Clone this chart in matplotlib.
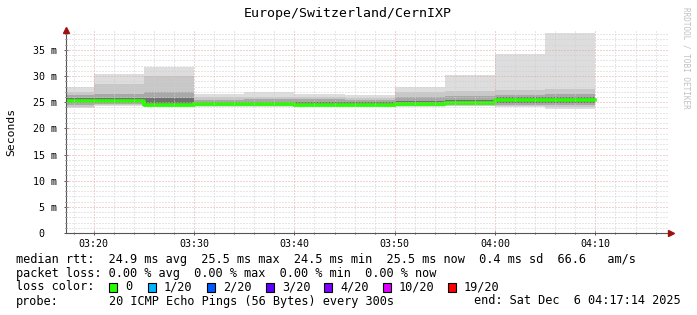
import matplotlib
matplotlib.use("Agg")
import matplotlib.pyplot as plt
from matplotlib.patches import Rectangle
import numpy as np

# time in minutes after 03:00, bins of 5 minutes (03:15 .. 04:10)
bin_edges = [15, 20, 25, 30, 35, 40, 45, 50, 55, 60, 65, 70]

# smoke bands per bin in ms (outer -> inner)
rtt_max = [28.0, 30.3, 31.7, 26.6, 27.0, 26.5, 26.3, 28.0, 30.2, 34.3, 38.3]
rtt_hi2 = [26.9, 28.5, 30.0, 26.0, 26.0, 26.0, 25.8, 26.9, 27.2, 27.4, 27.5]
rtt_hi3 = [26.3, 26.6, 27.0, 25.5, 25.7, 25.6, 25.5, 26.0, 26.2, 26.3, 26.5]
rtt_hi4 = [25.8, 25.8, 25.8, 25.0, 25.1, 25.0, 25.0, 25.3, 25.5, 26.0, 26.0]
median = [25.3, 25.3, 24.5, 24.6, 24.6, 24.5, 24.5, 24.7, 24.9, 25.4, 25.5]
rtt_lo4 = [24.8, 24.9, 24.3, 24.4, 24.4, 24.3, 24.3, 24.4, 24.6, 24.8, 24.8]
rtt_lo3 = [24.4, 24.6, 24.2, 24.3, 24.3, 24.2, 24.2, 24.3, 24.4, 24.5, 24.4]
rtt_lo2 = [24.0, 24.4, 24.1, 24.2, 24.2, 24.1, 24.1, 24.2, 24.3, 24.2, 24.0]
rtt_min = [23.8, 24.2, 24.0, 24.1, 24.1, 24.0, 24.0, 24.1, 24.2, 24.0, 23.7]

tick_minutes = [20, 30, 40, 50, 60, 70]
tick_labels = ["03:20", "03:30", "03:40", "03:50", "04:00", "04:10"]
ytick_vals = [0, 5, 10, 15, 20, 25, 30, 35]
ytick_labels = ["0  ", "5 m", "10 m", "15 m", "20 m", "25 m", "30 m", "35 m"]

loss_labels = ["0", "1/20", "2/20", "3/20", "4/20", "10/20", "19/20"]
loss_colors = ["#26ff00", "#00b8ff", "#0059ff", "#5e00ff", "#7e00ff", "#dd00ff", "#ff0000"]

legend_lines = [
    "median rtt:  24.9 ms avg  25.5 ms max  24.5 ms min  25.5 ms now  0.4 ms sd  66.6   am/s",
    "packet loss: 0.00 % avg  0.00 % max  0.00 % min  0.00 % now",
]
probe_text = "20 ICMP Echo Pings (56 Bytes) every 300s"
end_text = "end: Sat Dec  6 04:17:14 2025"

plt.rcParams['font.family'] = ['DejaVu Sans Mono']

W, H = 697, 315
fig = plt.figure(figsize=(W / 100, H / 100), dpi=100)
fig.patch.set_facecolor("white")
ax = fig.add_axes([66 / W, (H - 233) / H, (668 - 66) / W, (233 - 30) / H])
ax.set_facecolor("white")

def ext(v):
    return list(v) + [v[-1]]

bands = [
    (rtt_min, rtt_max, "#dddddd"),
    (rtt_lo2, rtt_hi2, "#c8c8c8"),
    (rtt_lo3, rtt_hi3, "#a8a8a8"),
    (rtt_lo4, rtt_hi4, "#707070"),
]
for lo, hi, col in bands:
    ax.fill_between(bin_edges, ext(lo), ext(hi), step="post", color=col, lw=0, zorder=1)

ax.step(bin_edges, ext(median), where="post", color="#26ff00", lw=2.6, zorder=2)

t0 = 17 + 14 / 60
ax.set_xlim(t0, t0 + 60)
ax.set_ylim(0, 38.8)

# grid on top, like rrdtool
minor_c = "#cfcfcf"
major_c = "#eaa5a5"
dots = (0, (1, 2))
for m in np.arange(18, 78, 2):
    if m % 10:
        ax.axvline(m, color=minor_c, lw=0.72, ls=dots, zorder=3)
for m in tick_minutes:
    ax.axvline(m, color=major_c, lw=0.72, ls=dots, zorder=3)
for v in range(1, 39):
    if v % 5:
        ax.axhline(v, color=minor_c, lw=0.72, ls=dots, zorder=3)
for v in ytick_vals[1:]:
    ax.axhline(v, color=major_c, lw=0.72, ls=dots, zorder=3)

ax.set_xticks(tick_minutes)
ax.set_xticklabels(tick_labels, fontsize=7.2)
ax.set_xticks(np.arange(18, 78, 2), minor=True)
ax.set_yticks(ytick_vals)
ax.set_yticklabels(ytick_labels, fontsize=7.2)
ax.set_yticks(range(0, 39), minor=True)
ax.tick_params(axis="both", which="major", length=3, width=0.7, color="#555555", direction="inout", pad=3)
ax.tick_params(axis="both", which="minor", length=2, width=0.7, color="#555555", direction="inout")
ax.tick_params(axis="y", pad=5)

for s in ["top", "right"]:
    ax.spines[s].set_visible(False)
for s in ["left", "bottom"]:
    ax.spines[s].set_color("#555555")
    ax.spines[s].set_linewidth(0.8)

# axis arrows
ax.plot([0], [1.0], marker="^", ms=4, color="#a01010", transform=ax.transAxes, clip_on=False, zorder=5)
ax.plot([1.005], [0], marker=">", ms=4, color="#a01010", transform=ax.transAxes, clip_on=False, zorder=5)

def px(x, y):
    return x / W, 1 - y / H

fig.text(*px(348, 14), "Europe/Switzerland/CernIXP", ha="center", va="center", fontsize=9.5)
fig.text(*px(11, 132), "Seconds", rotation=90, ha="center", va="center", fontsize=8.2)
fig.text(*px(686, 58), "RRDTOOL / TOBI OETIKER", rotation=270, ha="center", va="center",
         fontsize=5.5, color="#c0c0c0")

fs = 8.55
fig.text(*px(16, 259), legend_lines[0], ha="left", va="center", fontsize=fs)
fig.text(*px(16, 273), legend_lines[1], ha="left", va="center", fontsize=fs)
fig.text(*px(16, 287), "loss color:", ha="left", va="center", fontsize=fs)
box_x = [109, 148, 207, 266, 324, 383, 448]
for bx, lab, col in zip(box_x, loss_labels, loss_colors):
    fig.patches.append(Rectangle(px(bx, 292), 8 / W, 9 / H, transform=fig.transFigure,
                                 facecolor=col, edgecolor="black", lw=0.8))
    fig.text(*px(bx + 16, 287), lab, ha="left", va="center", fontsize=fs)
fig.text(*px(16, 301), "probe:", ha="left", va="center", fontsize=fs)
fig.text(*px(109, 301), probe_text, ha="left", va="center", fontsize=fs)
fig.text(*px(681, 301), end_text, ha="right", va="center", fontsize=fs)

fig.savefig("out.png", dpi=100, facecolor="white")
